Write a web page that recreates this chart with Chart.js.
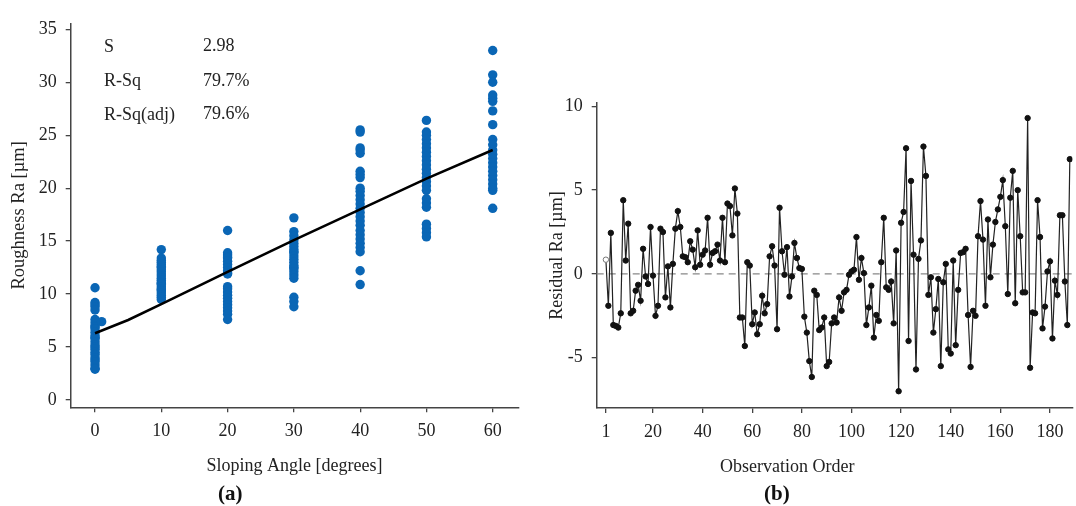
<!DOCTYPE html>
<html><head><meta charset="utf-8">
<script src="https://cdn.jsdelivr.net/npm/chart.js@4.4.1/dist/chart.umd.min.js"></script>
<style>
html,body{margin:0;padding:0;background:#fff;width:1076px;height:506px;overflow:hidden;}
#wa{position:absolute;left:0;top:0;width:540px;height:506px;}
#wb{position:absolute;left:540px;top:0;width:536px;height:506px;}
.lbl{position:absolute;font-family:'Liberation Serif','Times New Roman',serif;color:#222;white-space:nowrap;font-size:18px;line-height:20px;}
.cap{position:absolute;font-family:'Liberation Serif','Times New Roman',serif;font-weight:bold;color:#111;font-size:21px;line-height:24px;white-space:nowrap;}
</style></head><body>
<div id="wa"><canvas id="ca" width="540" height="506"></canvas></div>
<div id="wb"><canvas id="cb" width="536" height="506"></canvas></div>
<div class="lbl" style="left:104px;top:36px">S</div>
<div class="lbl" style="left:203px;top:35px">2.98</div>
<div class="lbl" style="left:104px;top:70px">R-Sq</div>
<div class="lbl" style="left:203px;top:70px">79.7%</div>
<div class="lbl" style="left:104px;top:104px">R-Sq(adj)</div>
<div class="lbl" style="left:203px;top:103px">79.6%</div>
<div class="lbl" id="obsTitle" style="left:720px;top:456px">Observation Order</div>
<div class="cap" style="left:218px;top:481px">(a)</div>
<div class="cap" style="left:764px;top:481px">(b)</div>
<script>
// ---------- data: panel (a) ----------
const angleCats = [0, 10, 20, 30, 40, 50, 60];
const ra0  = [10.6, 9.2, 9.0, 8.8, 8.5, 7.6, 7.3, 7.0, 6.9, 6.7, 6.4, 6.1, 5.9, 5.8, 5.5, 5.2, 5.0, 4.8, 4.5, 4.3, 4.0, 3.8, 3.6, 3.3, 3.0, 2.9];
const ra10 = [14.2, 13.4, 13.2, 13.0, 12.8, 12.6, 12.5, 12.3, 12.1, 11.9, 11.7, 11.5, 11.3, 11.1, 11.0, 10.9, 10.7, 10.5, 10.4, 10.3, 10.1, 9.9, 9.7, 9.5];
const ra20 = [16.0, 13.9, 13.7, 13.5, 13.4, 13.1, 12.8, 12.5, 12.2, 12.0, 11.9, 10.7, 10.5, 10.2, 9.9, 9.6, 9.3, 9.0, 8.7, 8.4, 8.1, 7.6];
const ra30 = [17.2, 15.9, 15.5, 15.1, 14.8, 14.5, 14.2, 14.0, 13.9, 13.6, 13.3, 13.0, 12.7, 12.5, 12.4, 12.1, 11.8, 11.5, 9.7, 9.3, 8.8];
const ra40 = [25.5, 25.3, 23.8, 23.6, 23.3, 21.6, 21.3, 21.0, 20.0, 19.7, 19.3, 18.9, 18.5, 18.1, 17.7, 17.3, 16.9, 16.5, 16.0, 15.6, 15.2, 14.8, 14.4, 14.0, 12.2, 10.9];
const ra50 = [26.4, 25.3, 25.0, 24.6, 24.2, 23.8, 23.4, 23.0, 22.6, 22.2, 21.8, 21.4, 21.0, 20.6, 20.2, 19.8, 19.0, 18.6, 18.2, 16.6, 16.2, 15.8, 15.4];
const ra60 = [33.0, 30.7, 30.0, 28.8, 28.5, 28.2, 27.3, 26.0, 24.6, 24.1, 23.6, 23.2, 22.8, 22.4, 22.0, 21.6, 21.2, 20.8, 20.4, 20.0, 19.8, 18.1];
const extraAngle = [1];
const extraRa = [7.4];
const fitAngle = [0, 5, 10, 20, 30, 40, 50, 60];
const fitRa = [6.3, 7.55, 9.05, 12.1, 15.1, 18.0, 20.9, 23.6];
const xTicksA = [0, 10, 20, 30, 40, 50, 60];
const yTicksA = [0, 5, 10, 15, 20, 25, 30, 35];

// ---------- data: panel (b) ----------
const residuals = [
 0.85, -1.9, 2.45, -3.05, -3.1, -3.2, -2.35, 4.4, 0.8, 3.0,
 -2.35, -2.2, -1.0, -0.65, -1.6, 1.5, -0.15, -0.6, 2.8, -0.1,
 -2.5, -1.9, 2.7, 2.5, -1.4, 0.45, -2.0, 0.6, 2.7, 3.75,
 2.8, 1.05, 1.0, 0.7, 1.95, 1.45, 0.4, 2.6, 0.55, 1.15,
 1.4, 3.35, 0.55, 1.25, 1.35, 1.75, 0.8, 3.35, 0.7, 4.2,
 4.05, 2.3, 5.1, 3.6, -2.6, -2.6, -4.3, 0.7, 0.5, -3.0,
 -2.3, -3.6, -3.0, -1.3, -2.35, -1.8, 1.05, 1.65, 0.5, -3.3,
 3.95, 1.35, -0.05, 1.6, -1.35, -0.15, 1.85, 0.95, 0.35, 0.3,
 -2.55, -3.5, -5.2, -6.15, -1.0, -1.25, -3.35, -3.2, -2.6, -5.5,
 -5.25, -2.95, -2.6, -2.9, -1.4, -2.2, -1.1, -0.95, -0.05, 0.15,
 0.25, 2.2, -0.35, 0.95, 0.05, -3.05, -2.0, -0.7, -3.8, -2.45,
 -2.8, 0.7, 3.35, -0.8, -0.95, -0.45, -2.95, 1.4, -7.0, 3.05,
 3.7, 7.5, -4.0, 5.55, 1.15, -5.7, 0.9, 2.0, 7.6, 5.85,
 -1.25, -0.2, -3.5, -2.1, -0.3, -5.5, -0.5, 0.6, -4.5, -4.75,
 0.8, -4.25, -0.95, 1.25, 1.3, 1.5, -2.45, -5.55, -2.2, -2.5,
 2.25, 4.35, 2.05, -1.9, 3.25, -0.2, 1.75, 3.1, 3.85, 4.6,
 5.6, 2.85, -1.2, 4.55, 6.15, -1.75, 5.0, 2.25, -1.1, -1.1,
 9.3, -5.6, -2.3, -2.35, 4.4, 2.2, -3.25, -1.95, 0.15, 0.75,
 -3.85, -0.4, -1.25, 3.5, 3.5, -0.45, -3.05, 6.85
];
const xTicksB = [1, 20, 40, 60, 80, 100, 120, 140, 160, 180];
const yTicksB = [-5, 0, 5, 10];
const zeroRef = [0];

// ---------- build ----------
const FONT = "'Liberation Serif','Times New Roman',serif";
const groups = [ra0, ra10, ra20, ra30, ra40, ra50, ra60];
const scatterPts = groups.flatMap((g, i) => g.map(v => ({x: angleCats[i], y: v})))
  .concat(extraAngle.map((a, i) => ({x: a, y: extraRa[i]})));
const fitPts = fitAngle.map((a, i) => ({x: a, y: fitRa[i]}));
const resPts = residuals.map((v, i) => ({x: i + 1, y: v}));

function axis(tickVals, min, max, opts) {
  return Object.assign({
    type: 'linear', min: min, max: max,
    afterBuildTicks: s => { s.ticks = tickVals.map(v => ({value: v})); },
    grid: {display: true, drawOnChartArea: false, drawTicks: true, tickLength: 5, color: '#444', lineWidth: 1.3},
    border: {display: true, color: '#444', width: 1.5},
    ticks: {color: '#222', font: {family: FONT, size: 18}, padding: 8, autoSkip: false, maxRotation: 0,
            callback: v => String(v)}
  }, opts);
}

new Chart(document.getElementById('ca'), {
  type: 'scatter',
  data: {datasets: [
    {type: 'line', data: fitPts, borderColor: '#000', borderWidth: 2.6, pointRadius: 0, tension: 0, fill: false},
    {data: scatterPts, backgroundColor: '#0a66b5', borderWidth: 0, pointRadius: 4.7, pointHoverRadius: 4.7}
  ]},
  options: {
    responsive: false, animation: false, events: [],
    layout: {padding: {top: 23.3, right: 21.7, left: 0, bottom: 0}},
    plugins: {legend: {display: false}, tooltip: {enabled: false}},
    scales: {
      x: axis(xTicksA, -3.67, 63.86, {
        afterFit: s => { s.height = 98.7; },
        title: {display: true, text: 'Sloping Angle [degrees]', color: '#222', font: {family: FONT, size: 18}, padding: {top: 0, bottom: 28.5}}
      }),
      y: axis(yTicksA, -0.69, 35.57, {
        afterFit: s => { s.width = 70.7; },
        ticks: {color: '#222', font: {family: FONT, size: 18}, padding: 9, autoSkip: false, callback: v => String(v)},
        title: {display: true, text: 'Roughness Ra [µm]', color: '#222', font: {family: FONT, size: 18.5}, padding: {top: 8, bottom: 0}}
      })
    }
  }
});

const zeroLinePlugin = {
  id: 'zeroLine',
  beforeDatasetsDraw(chart) {
    const {ctx, chartArea, scales} = chart;
    zeroRef.forEach(v => {
      const y = scales.y.getPixelForValue(v);
      ctx.save();
      ctx.strokeStyle = '#888';
      ctx.lineWidth = 1.2;
      ctx.setLineDash([7, 5]);
      ctx.beginPath();
      ctx.moveTo(chartArea.left, y);
      ctx.lineTo(chartArea.right, y);
      ctx.stroke();
      ctx.restore();
    });
  }
};

new Chart(document.getElementById('cb'), {
  type: 'scatter',
  data: {datasets: [
    {data: resPts, showLine: true, borderColor: '#222', borderWidth: 1.2, tension: 0,
     pointRadius: 2.7, pointHoverRadius: 2.7, pointBorderWidth: 1,
     pointBackgroundColor: c => c.dataIndex === 0 ? '#fff' : '#111',
     pointBorderColor: c => c.dataIndex === 0 ? '#777' : '#111'}
  ]},
  options: {
    responsive: false, animation: false, events: [],
    layout: {padding: {top: 103, right: 0, left: 0, bottom: 0}},
    plugins: {legend: {display: false}, tooltip: {enabled: false}},
    scales: {
      x: axis(xTicksB, -2.7, 189, {
        afterFit: s => { s.height = 98; }
      }),
      y: axis(yTicksB, -8.0, 10.2, {
        afterFit: s => { s.width = 56.7; },
        ticks: {color: '#222', font: {family: FONT, size: 18}, padding: 9, autoSkip: false, callback: v => String(v)},
        title: {display: true, text: 'Residual Ra [µm]', color: '#222', font: {family: FONT, size: 18}, padding: {top: 6, bottom: 0}}
      })
    }
  },
  plugins: [zeroLinePlugin]
});
</script>
</body></html>
